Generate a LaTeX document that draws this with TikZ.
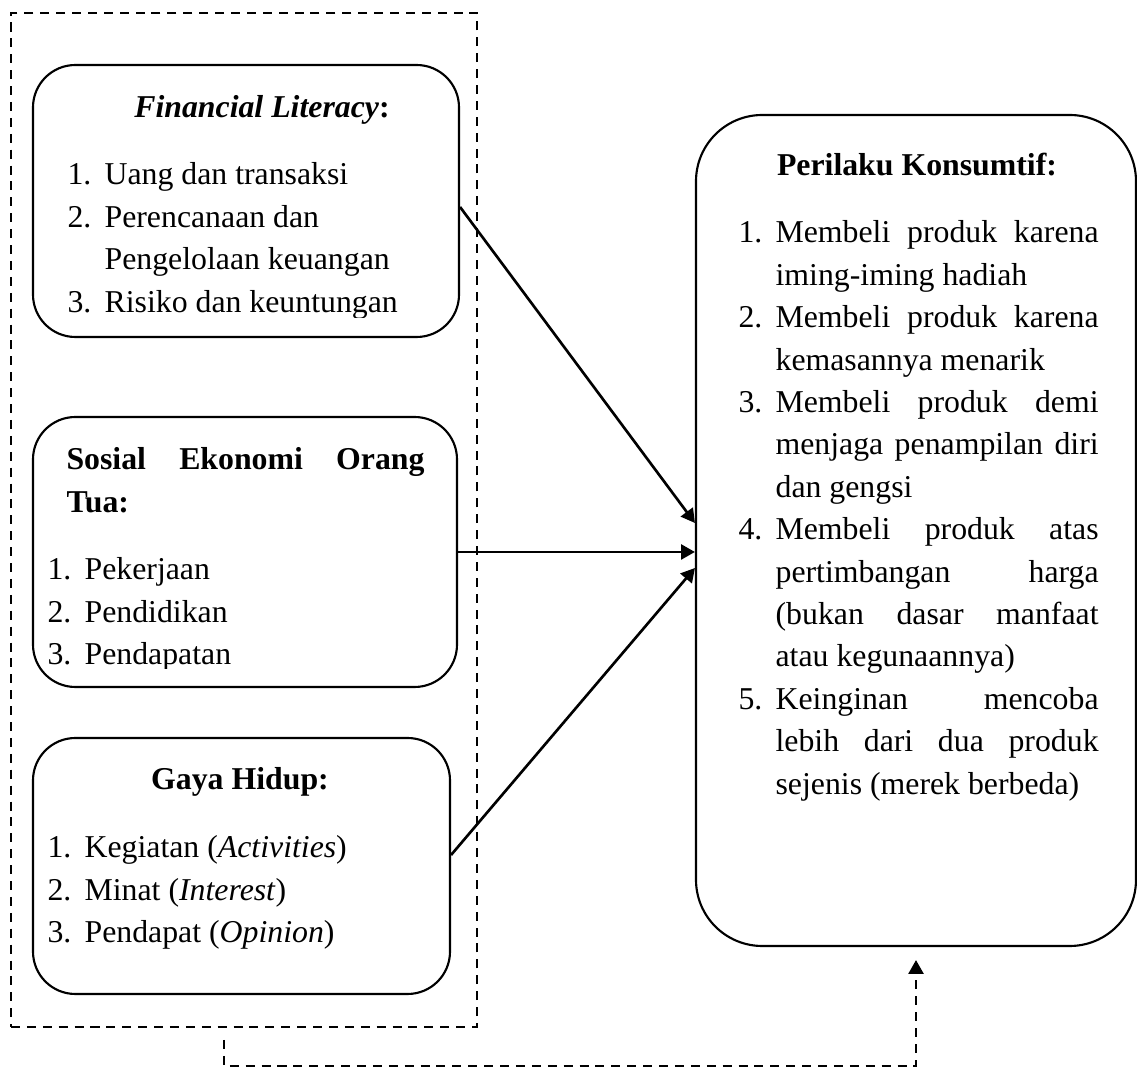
\documentclass[tikz,border=0pt]{standalone}
\usepackage{fontspec}
\setmainfont{Liberation Serif}
\usetikzlibrary{arrows.meta,calc,fit}
\newcommand{\nomor}[1]{\makebox[14pt][l]{#1}}
\newcommand{\rata}[2][121.9pt]{\makebox[#1][s]{#2}}
\tikzset{
kotak/.style={draw,line width=0.8pt,rounded corners=16pt,inner sep=0pt},
isi/.style={anchor=base west,inner sep=0pt,font=\fontsize{12}{16}\selectfont},
judul/.style={anchor=base,inner sep=0pt,font=\fontsize{12}{16}\selectfont\bfseries},
panah/.style={-{Triangle[length=5.2pt,width=5.6pt]},line width=1pt},
putus/.style={line width=1pt,dash pattern=on 3.4pt off 2.6pt}
}
\begin{document}
\begin{tikzpicture}[x=0.3774pt,y=-0.3774pt]
\useasboundingbox (0,0) rectangle (1137,1068);
\node[kotak,fit={(33,65) (459,337)}] (fl) {};
\node[kotak,fit={(33,417) (457,687)}] (sos) {};
\node[kotak,fit={(33,738) (450,994)}] (gaya) {};
\node[kotak,rounded corners=25pt,fit={(696,115) (1136,946)}] (pk) {};
\node[putus,draw,inner sep=0pt,fit={(11,13) (477,1027)}] (grp) {};

\node[judul] (fl-judul) at (262,118) {\textit{Financial Literacy}:};
\begin{scope}
\clip (fl.north west) rectangle ($(fl.south east)+(0,-21)$);
\node[isi] (fl-isi) at (67,185) {\begin{tabular}[t]{@{}l@{}}
\nomor{1.}Uang dan transaksi\\
\nomor{2.}Perencanaan dan\\
\nomor{}Pengelolaan keuangan\\
\nomor{3.}Risiko dan keuntungan
\end{tabular}};
\end{scope}

\node[isi,font=\fontsize{12}{16}\selectfont\bfseries] (sos-judul) at (66,470) {\begin{tabular}[t]{@{}l@{}}
\rata[135.1pt]{Sosial Ekonomi Orang}\\
Tua:
\end{tabular}};
\begin{scope}
\clip (sos.north west) rectangle ($(sos.south east)+(0,-20)$);
\node[isi] (sos-isi) at (47,580) {\begin{tabular}[t]{@{}l@{}}
\nomor{1.}Pekerjaan\\
\nomor{2.}Pendidikan\\
\nomor{3.}Pendapatan
\end{tabular}};
\end{scope}

\node[judul] (gaya-judul) at (240,790) {Gaya Hidup:};
\node[isi] (gaya-isi) at (47,858) {\begin{tabular}[t]{@{}l@{}}
\nomor{1.}Kegiatan (\textit{Activities})\\
\nomor{2.}Minat (\textit{Interest})\\
\nomor{3.}Pendapat (\textit{Opinion})
\end{tabular}};

\node[judul] (pk-judul) at (917,176) {Perilaku Konsumtif:};
\node[isi] (pk-isi) at (738,243) {\begin{tabular}[t]{@{}l@{}}
\nomor{1.}\rata{Membeli produk karena}\\
\nomor{}iming-iming hadiah\\
\nomor{2.}\rata{Membeli produk karena}\\
\nomor{}kemasannya menarik\\
\nomor{3.}\rata{Membeli produk demi}\\
\nomor{}\rata{menjaga penampilan diri}\\
\nomor{}dan gengsi\\
\nomor{4.}\rata{Membeli produk atas}\\
\nomor{}\rata{pertimbangan harga}\\
\nomor{}\rata{(bukan dasar manfaat}\\
\nomor{}atau kegunaannya)\\
\nomor{5.}\rata{Keinginan mencoba}\\
\nomor{}\rata{lebih dari dua produk}\\
\nomor{}sejenis (merek berbeda)
\end{tabular}};

\draw[panah] ($(fl.east)+(0,6)$) -- ($(pk.west)+(0,-7.5)$);
\draw[panah] (sos.east) -- (pk.west |- sos.east);
\draw[panah] ($(gaya.east)+(0,-11)$) -- ($(pk.west)+(0,37.5)$);
\coordinate (umpan) at (224,1040);
\draw[putus,panah] (umpan) -- ++(0,26) -| ($(pk.south)+(0,13)$);
\end{tikzpicture}
\end{document}
